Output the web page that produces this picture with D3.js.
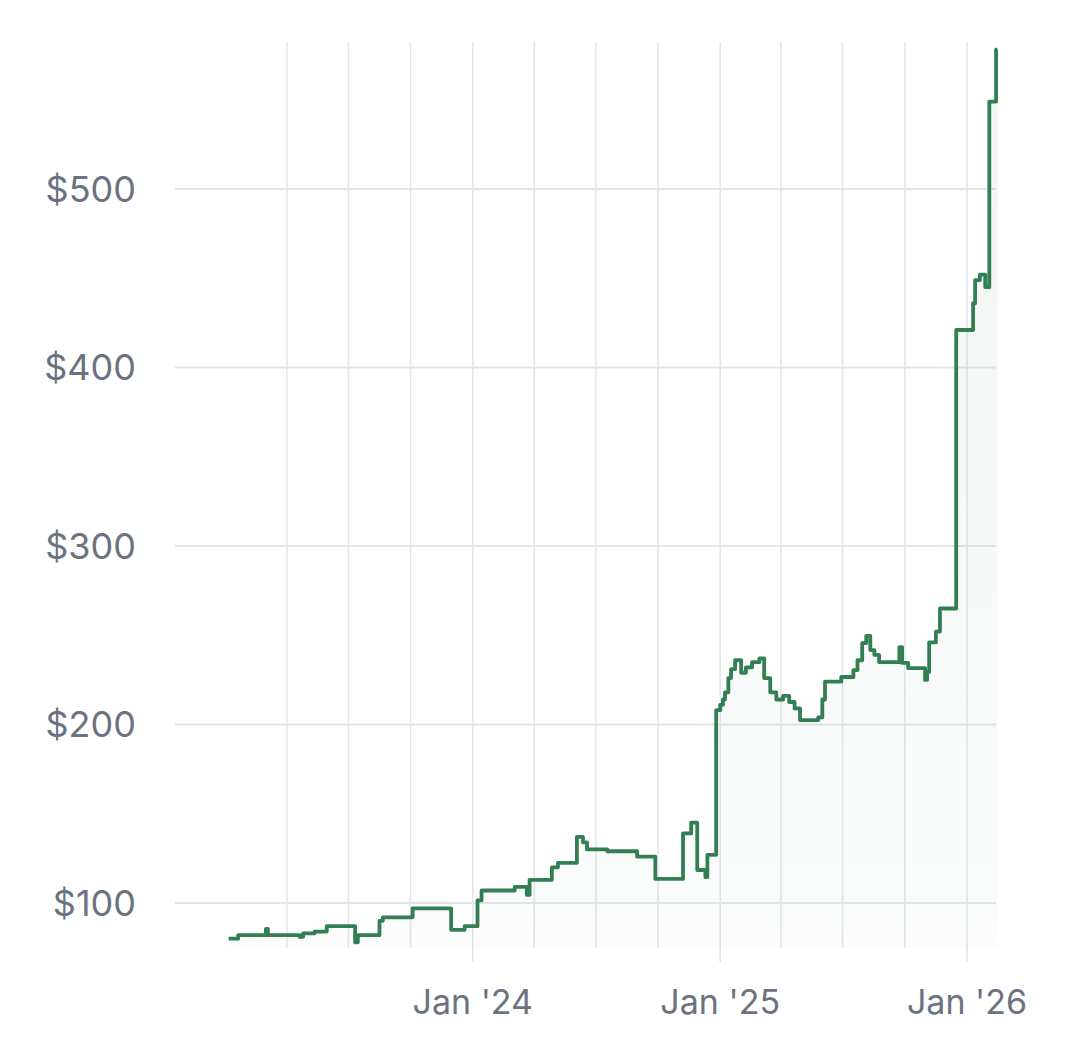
<!DOCTYPE html>
<html>
<head>
<meta charset="utf-8">
<script src="https://cdn.jsdelivr.net/npm/d3@7"></script>
<style>
  html, body { margin: 0; padding: 0; background: #ffffff; }
  svg { display: block; }
  text { font-family: Inter, "Liberation Sans", sans-serif; }
</style>
</head>
<body>
<svg id="chart" width="1080" height="1037"></svg>
<script>
// ---- data ----
const dates = [
  "2023-01-05","2023-01-19","2023-03-01","2023-03-04","2023-03-06","2023-04-20","2023-04-25",
  "2023-05-12","2023-05-30","2023-07-11","2023-07-15","2023-08-16","2023-08-21","2023-10-04",
  "2023-11-30","2023-12-20","2024-01-08","2024-01-14","2024-03-03","2024-03-21","2024-03-25",
  "2024-04-27","2024-05-06","2024-06-03","2024-06-12","2024-06-18","2024-07-18","2024-08-31",
  "2024-09-27","2024-11-07","2024-11-19","2024-11-28","2024-12-10","2024-12-13","2024-12-26",
  "2025-01-01","2025-01-05","2025-01-08","2025-01-13","2025-01-17","2025-01-23","2025-02-01",
  "2025-02-08","2025-02-17","2025-02-28","2025-03-07","2025-03-16","2025-03-25","2025-04-04",
  "2025-04-13","2025-04-21","2025-04-29","2025-05-26","2025-06-01","2025-06-05","2025-06-29",
  "2025-07-17","2025-07-23","2025-07-30","2025-08-05","2025-08-11","2025-08-17","2025-08-24",
  "2025-09-23","2025-09-27","2025-10-06","2025-10-31","2025-11-03","2025-11-06","2025-11-16",
  "2025-11-22","2025-12-16","2026-01-10","2026-01-13","2026-01-20","2026-01-28","2026-02-03",
  "2026-02-13","2026-02-15"
];
const prices = [
  80, 82, 85.5, 82, 82, 81, 83,
  84, 87, 78, 82, 90, 92, 97,
  85, 87, 101.5, 107, 109, 104.5, 113,
  120, 122.5, 137, 134, 130, 129, 126,
  113.5, 139, 145, 118.5, 114.5, 127, 208,
  211, 214, 218, 226, 231, 236, 229,
  232, 235, 237, 226, 218, 214, 216,
  212.6, 209, 202.5, 204, 214, 224, 226.6,
  230.5, 236, 245.6, 249.6, 241.7, 239, 235,
  243.4, 234.5, 231.6, 225, 229.4, 246, 252,
  265, 421, 436, 449, 452, 445, 549,
  578, 578
];
const yTicks = [100, 200, 300, 400, 500];
const yTickLabels = ["$100", "$200", "$300", "$400", "$500"];
const gridDates = ["2023-04-01","2023-07-01","2023-10-01","2024-01-01","2024-04-01","2024-07-01",
  "2024-10-01","2025-01-01","2025-04-01","2025-07-01","2025-10-01","2026-01-01"];
const xTickDates = ["2024-01-01","2025-01-01","2026-01-01"];
const xTickLabels = ["Jan '24","Jan '25","Jan '26"];

// ---- layout ----
const parse = d3.utcParse("%Y-%m-%d");
const data = dates.map((d, i) => ({ date: parse(d), value: prices[i] }));
const svg = d3.select("#chart");

const plotLeft = 175, plotRight = 996, plotTop = 42, plotBottom = 948;

const x = d3.scaleUtc()
  .domain([parse("2023-01-01"), parse("2026-01-01")])
  .range([226, 967]);
const y = d3.scaleLinear().domain([100, 500]).range([903, 189]);

const gridColor = "#e3e5ec";

// horizontal grid
svg.append("g").selectAll("line").data(yTicks).join("line")
  .attr("x1", plotLeft).attr("x2", plotRight)
  .attr("y1", d => y(d)).attr("y2", d => y(d))
  .attr("stroke", gridColor).attr("stroke-width", 2);

// vertical grid
const janSet = new Set(xTickDates);
svg.append("g").selectAll("line").data(gridDates).join("line")
  .attr("x1", d => x(parse(d))).attr("x2", d => x(parse(d)))
  .attr("y1", plotTop).attr("y2", d => janSet.has(d) ? 962 : plotBottom)
  .attr("stroke", gridColor).attr("stroke-width", 1.5);

// gradient fill
const defs = svg.append("defs");
const grad = defs.append("linearGradient").attr("id", "fillGrad")
  .attr("x1", 0).attr("y1", 0).attr("x2", 0).attr("y2", 1);
grad.append("stop").attr("offset", "0%").attr("stop-color", "#2e7d4f").attr("stop-opacity", 0.07);
grad.append("stop").attr("offset", "100%").attr("stop-color", "#2e7d4f").attr("stop-opacity", 0.02);

const area = d3.area()
  .x(d => x(d.date)).y0(plotBottom).y1(d => y(d.value))
  .curve(d3.curveStepAfter);
svg.append("path").datum(data).attr("d", area).attr("fill", "url(#fillGrad)");

const line = d3.line()
  .x(d => x(d.date)).y(d => y(d.value))
  .curve(d3.curveStepAfter);
svg.append("path").datum(data).attr("d", line)
  .attr("fill", "none").attr("stroke", "#327f51").attr("stroke-width", 3.8)
  .attr("stroke-linejoin", "round").attr("stroke-linecap", "butt");

// y labels
svg.append("g").selectAll("text").data(yTicks).join("text")
  .attr("x", 136).attr("y", d => y(d)).attr("dy", "0.36em")
  .attr("text-anchor", "end")
  .attr("font-size", 36).attr("fill", "#6b7280")
  .text((d, i) => yTickLabels[i]);

// x labels
svg.append("g").selectAll("text").data(xTickDates).join("text")
  .attr("x", d => x(parse(d))).attr("y", 1014)
  .attr("text-anchor", "middle")
  .attr("font-size", 34).attr("fill", "#6b7280")
  .text((d, i) => xTickLabels[i]);
</script>
</body>
</html>
